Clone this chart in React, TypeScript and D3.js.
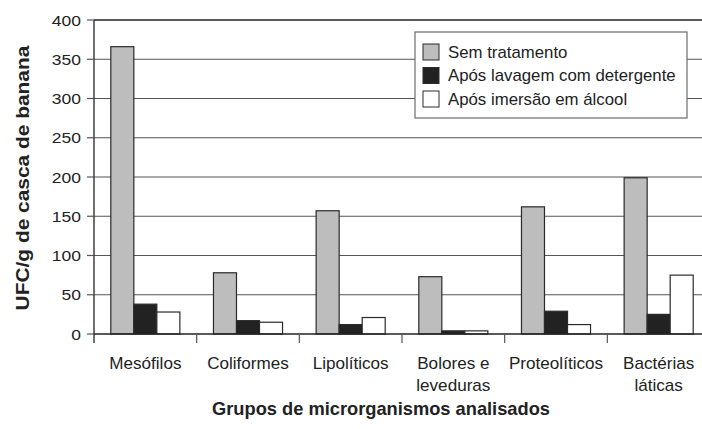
import * as d3 from "d3";

const categories = [
  ["Mesófilos"],
  ["Coliformes"],
  ["Lipolíticos"],
  ["Bolores e", "leveduras"],
  ["Proteolíticos"],
  ["Bactérias", "láticas"],
];
const seriesNames = ["Sem tratamento", "Após lavagem com detergente", "Após imersão em álcool"];
const semTratamento = [366, 78, 157, 73, 162, 199];
const aposDetergente = [38, 17, 12, 4, 29, 25];
const aposAlcool = [28, 15, 21, 4, 12, 75];
const yTicks = [0, 50, 100, 150, 200, 250, 300, 350, 400];

const fills = ["#bdbdbd", "#222222", "#ffffff"];
const font = "'Liberation Sans', Arial, Helvetica, sans-serif";

export default function App() {
  const width = 702;
  const height = 429;
  const margin = { left: 94, top: 20, right: -8, bottom: 95 };
  const plotRight = width - margin.right;
  const plotBottom = height - margin.bottom;

  const series = [semTratamento, aposDetergente, aposAlcool];
  const keys = categories.map(c => c.join(" "));

  const x0 = d3.scaleBand().domain(keys).range([margin.left, plotRight]).padding(0);
  const x1 = d3
    .scaleBand()
    .domain(seriesNames)
    .range([0, x0.bandwidth()])
    .paddingInner(0)
    .paddingOuter(0.73);
  const y = d3.scaleLinear().domain([0, 400]).range([plotBottom, margin.top]);

  return (
    <svg width={width} height={height} style={{ position: "absolute", left: 0, top: 0, background: "#fff" }} fontFamily={font}>
      {/* gridlines */}
      {yTicks.filter(t => t > 0).map(t => (
        <line key={t} x1={margin.left} x2={plotRight} y1={y(t)} y2={y(t)}
          stroke={t === 400 ? "#222" : "#555"} strokeWidth={t === 400 ? 1.6 : 1.2} />
      ))}

      {/* bars */}
      {keys.map((k, i) => (
        <g key={k} transform={`translate(${x0(k)},0)`}>
          {seriesNames.map((s, j) => (
            <rect key={s} x={x1(s)} y={y(series[j][i])} width={x1.bandwidth()}
              height={y(0) - y(series[j][i])} fill={fills[j]} stroke="#2a2a2a" strokeWidth={1.2} />
          ))}
        </g>
      ))}

      {/* y axis */}
      <line x1={margin.left} x2={margin.left} y1={margin.top} y2={plotBottom + 9} stroke="#222" strokeWidth={1.3} />
      {yTicks.map(t => (
        <g key={t}>
          <line x1={margin.left - 7} x2={margin.left} y1={y(t)} y2={y(t)} stroke="#555" strokeWidth={1.2} />
          <text transform={`translate(${margin.left - 13},${y(t) + 5.5}) scale(1.13,1)`}
            textAnchor="end" fontSize={15.5} fill="#222">{t}</text>
        </g>
      ))}

      {/* x axis */}
      <line x1={margin.left} x2={plotRight} y1={plotBottom} y2={plotBottom} stroke="#222" strokeWidth={1.3} />
      {keys.slice(1).map(k => (
        <line key={k} x1={x0(k)} x2={x0(k)} y1={plotBottom} y2={plotBottom + 9} stroke="#555" strokeWidth={1.2} />
      ))}
      {categories.map((lines, i) => (
        <text key={keys[i]}
          transform={`translate(${(x0(keys[i]) ?? 0) + x0.bandwidth() / 2},${plotBottom + 35}) scale(1.07,1)`}
          textAnchor="middle" fontSize={16} fill="#222">
          {lines.map((l, li) => (
            <tspan key={l} x={0} dy={li === 0 ? 0 : 22}>{l}</tspan>
          ))}
        </text>
      ))}

      {/* axis titles */}
      <text transform="translate(381,415) scale(1.015,1)" textAnchor="middle" fontSize={18}
        fontWeight="bold" fill="#222">
        Grupos de microrganismos analisados
      </text>
      <text transform={`translate(29,178) rotate(-90) scale(1.1,1)`} textAnchor="middle"
        fontSize={19} fontWeight="bold" fill="#222">
        UFC/g de casca de banana
      </text>

      {/* legend */}
      <g transform="translate(415,32)">
        <rect x={0} y={0} width={272} height={86} fill="#fff" stroke="#777" strokeWidth={1.3} />
        {seriesNames.map((s, j) => (
          <g key={s} transform={`translate(8,${20 + j * 23.5})`}>
            <rect x={0} y={-8} width={16} height={16} fill={fills[j]} stroke="#2a2a2a" strokeWidth={1} />
            <text transform="translate(25,5.7) scale(1.05,1)" fontSize={16} fill="#222">{s}</text>
          </g>
        ))}
      </g>
    </svg>
  );
}
